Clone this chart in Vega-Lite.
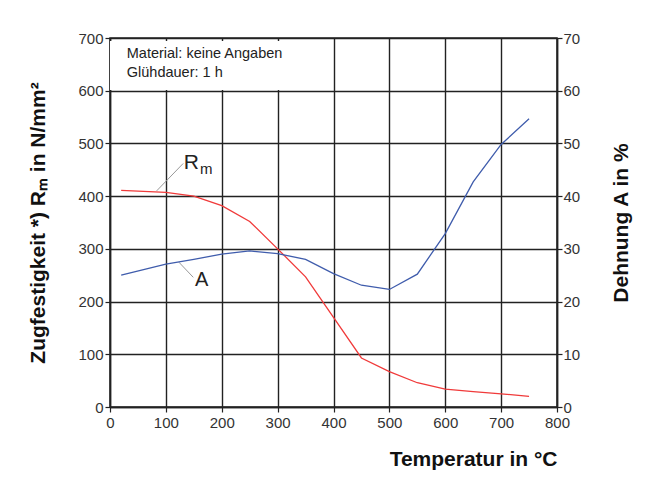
{
  "$schema": "https://vega.github.io/schema/vega-lite/v6.json",
  "width": 447,
  "height": 369,
  "autosize": "none",
  "padding": {"left": 110, "top": 38, "right": 97, "bottom": 77},
  "background": "white",
  "config": {
    "font": "Liberation Sans",
    "view": {"stroke": "#222", "strokeWidth": 1.5},
    "axis": {
      "domainColor": "#222", "domainWidth": 1.5,
      "gridColor": "#222", "gridWidth": 1.4, "gridOpacity": 1,
      "tickColor": "#222", "tickWidth": 1.2, "tickSize": 5,
      "labelFont": "Liberation Sans", "labelFontSize": 15, "labelColor": "#333",
      "titleFont": "Liberation Sans", "titleFontSize": 21, "titleFontWeight": "bold", "titleColor": "#111"
    }
  },
  "data": {"values": [
    {"T": 20, "Rm": 411, "A": 25.0},
    {"T": 100, "Rm": 407, "A": 27.1},
    {"T": 150, "Rm": 400, "A": 28.0},
    {"T": 200, "Rm": 382, "A": 29.0},
    {"T": 250, "Rm": 352, "A": 29.6},
    {"T": 300, "Rm": 300, "A": 29.1},
    {"T": 350, "Rm": 247, "A": 28.0},
    {"T": 400, "Rm": 170, "A": 25.3},
    {"T": 450, "Rm": 93, "A": 23.1},
    {"T": 500, "Rm": 67, "A": 22.3},
    {"T": 550, "Rm": 46, "A": 25.2},
    {"T": 600, "Rm": 34, "A": 32.9},
    {"T": 650, "Rm": 29, "A": 42.7},
    {"T": 700, "Rm": 25, "A": 49.8},
    {"T": 750, "Rm": 20, "A": 54.7}
  ]},
  "layer": [
    {
      "layer": [
        {
          "mark": {"type": "line", "color": "#f03a3a", "strokeWidth": 1.3},
          "encoding": {
            "x": {"field": "T", "type": "quantitative", "scale": {"domain": [0, 800], "nice": false},
                  "axis": {"values": [0,100,200,300,400,500,600,700,800], "grid": true, "title": "Temperatur in °C", "titleAnchor": "end", "titlePadding": 18, "labelPadding": 3, "labelFlush": false}},
            "y": {"field": "Rm", "type": "quantitative", "scale": {"domain": [0, 700], "nice": false},
                  "axis": {"values": [0,100,200,300,400,500,600,700], "grid": true, "title": "Zugfestigkeit *) Rₘ in N/mm²", "titlePadding": 29, "labelPadding": 2, "labelFlush": false}}
          }
        },
        {
          "mark": {"type": "rect", "fill": "white", "stroke": null},
          "encoding": {
            "x": {"datum": 0, "type": "quantitative"},
            "x2": {"datum": 350},
            "y": {"datum": 602, "type": "quantitative"},
            "y2": {"datum": 694}
          }
        },
        {
          "data": {"values": [
            {"x1": 83.5, "y1": 410, "x2": 131, "y2": 462},
            {"x1": 123.4, "y1": 274.6, "x2": 149, "y2": 246}
          ]},
          "mark": {"type": "rule", "color": "#999", "strokeWidth": 1},
          "encoding": {
            "x": {"field": "x1", "type": "quantitative"},
            "y": {"field": "y1", "type": "quantitative"},
            "x2": {"field": "x2"},
            "y2": {"field": "y2"}
          }
        },
        {
          "data": {"values": [
            {"tx": 132, "ty": 463, "label": "R", "size": 21},
            {"tx": 161, "ty": 451, "label": "m", "size": 15},
            {"tx": 152, "ty": 240, "label": "A", "size": 20}
          ]},
          "mark": {"type": "text", "align": "left", "baseline": "middle", "color": "#222", "font": "Liberation Sans"},
          "encoding": {
            "x": {"field": "tx", "type": "quantitative"},
            "y": {"field": "ty", "type": "quantitative"},
            "text": {"field": "label"},
            "size": {"field": "size", "type": "quantitative", "scale": null, "legend": null}
          }
        },
        {
          "data": {"values": [
            {"tx": 30, "ty": 669, "label": "Material: keine Angaben"},
            {"tx": 30, "ty": 633, "label": "Glühdauer: 1 h"}
          ]},
          "mark": {"type": "text", "align": "left", "baseline": "middle", "fontSize": 14.5, "color": "#222", "font": "Liberation Sans"},
          "encoding": {
            "x": {"field": "tx", "type": "quantitative"},
            "y": {"field": "ty", "type": "quantitative"},
            "text": {"field": "label"}
          }
        }
      ]
    },
    {
      "mark": {"type": "line", "color": "#3f5cac", "strokeWidth": 1.3},
      "encoding": {
        "x": {"field": "T", "type": "quantitative"},
        "y": {"field": "A", "type": "quantitative", "scale": {"domain": [0, 70], "nice": false},
              "axis": {"orient": "right", "values": [0,10,20,30,40,50,60,70], "grid": false, "title": "Dehnung  A in %", "titleAngle": 270, "titlePadding": 52, "labelPadding": 1, "labelFlush": false}}
      }
    }
  ],
  "resolve": {"scale": {"y": "independent"}}
}
